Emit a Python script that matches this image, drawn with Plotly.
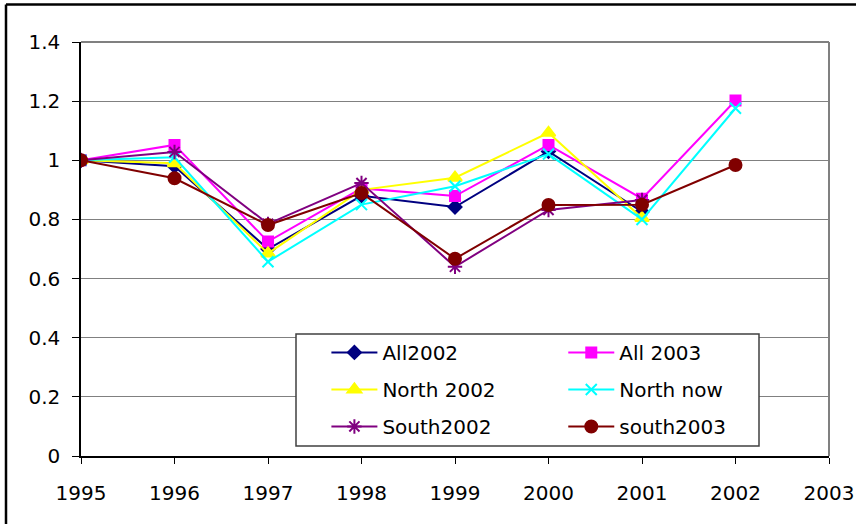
import plotly.graph_objects as go

# Index series (1995 = 1)
years = [1995, 1996, 1997, 1998, 1999, 2000, 2001, 2002]
all2002 = [1.0, 0.98, 0.70, 0.88, 0.842, 1.03, 0.826]
all2003 = [1.0, 1.052, 0.725, 0.905, 0.879, 1.052, 0.87, 1.202]
north2002 = [1.0, 0.99, 0.685, 0.90, 0.941, 1.093, 0.805]
north_now = [1.0, 1.01, 0.657, 0.85, 0.912, 1.021, 0.80, 1.176]
south2002 = [1.0, 1.028, 0.785, 0.923, 0.640, 0.832, 0.866]
south2003 = [1.0, 0.939, 0.781, 0.889, 0.667, 0.849, 0.85, 0.984]

y_ticks = [0, 0.2, 0.4, 0.6, 0.8, 1.0, 1.2, 1.4]
x_ticks = [1995, 1996, 1997, 1998, 1999, 2000, 2001, 2002, 2003]

FONT = "DejaVu Sans"
FS = 20

series = [
    ("All2002", all2002, "#000080", "diamond", 10, "legend"),
    ("All 2003", all2003, "#FF00FF", "square", 10, "legend2"),
    ("North 2002", north2002, "#FFFF00", "triangle-up", 12, "legend"),
    ("North now", north_now, "#00FFFF", "x-thin-open", 11, "legend2"),
    ("South2002", south2002, "#800080", "asterisk-open", 12, "legend"),
    ("south2003", south2003, "#800000", "circle", 12, "legend2"),
]

fig = go.Figure()
for name, vals, color, symbol, size, leg in series:
    fig.add_trace(go.Scatter(
        x=years[:len(vals)], y=vals, name=name, mode="lines+markers",
        line=dict(color=color, width=2),
        marker=dict(symbol=symbol, size=size, color=color,
                    line=dict(color=color, width=2)),
        legend=leg, legendgroup=name,
    ))

legend_common = dict(
    font=dict(family=FONT, size=FS, color="#000000"),
    bgcolor="rgba(0,0,0,0)", borderwidth=0,
    orientation="v", tracegroupgap=8, itemwidth=46,
    xanchor="left", yanchor="top",
)

# plot area in pixels: x 81..829, y 42..456
PW, PH = 748, 414
FRAME_X = (6 - 81) / PW
FRAME_Y = (456 - 4.5) / PH

fig.update_layout(
    width=856, height=524,
    margin=dict(l=81, r=27, t=42, b=68, autoexpand=False),
    paper_bgcolor="#FFFFFF", plot_bgcolor="#FFFFFF",
    font=dict(family=FONT, size=FS, color="#000000"),
    showlegend=True,
    legend=dict(x=0.3 + 21 / PW, y=0.29 + 3 / PH, **legend_common),
    legend2=dict(x=0.614 + 23 / PW, y=0.29 + 3 / PH, **legend_common),
    xaxis=dict(
        range=[1995, 2003], tickmode="array", tickvals=x_ticks,
        ticktext=[str(t) for t in x_ticks],
        showgrid=False, zeroline=False, automargin=False,
        showline=True, linecolor="#000000", linewidth=1.5,
        ticks="outside", ticklen=6, tickcolor="#000000", tickwidth=1,
        ticklabelstandoff=12,
        tickfont=dict(family=FONT, size=FS),
    ),
    yaxis=dict(
        range=[0, 1.4], tickmode="array", tickvals=y_ticks,
        ticktext=["0", "0.2", "0.4", "0.6", "0.8", "1", "1.2", "1.4"],
        showgrid=True, gridcolor="#808080", gridwidth=1,
        zeroline=False, automargin=False,
        showline=True, linecolor="#000000", linewidth=1.5,
        ticks="outside", ticklen=7, tickcolor="#000000", tickwidth=1,
        ticklabelstandoff=8,
        tickfont=dict(family=FONT, size=FS),
    ),
    shapes=[
        # outer chart frame (left and top edges)
        dict(type="line", xref="paper", yref="paper",
             x0=FRAME_X, x1=FRAME_X, y0=-0.2, y1=FRAME_Y,
             line=dict(color="#000000", width=2.5), layer="above"),
        dict(type="line", xref="paper", yref="paper",
             x0=FRAME_X, x1=1.1, y0=FRAME_Y, y1=FRAME_Y,
             line=dict(color="#000000", width=2.5), layer="above"),
        # plot-area border (top and right)
        dict(type="line", xref="paper", yref="paper", x0=0, x1=1, y0=1, y1=1,
             line=dict(color="#808080", width=2)),
        dict(type="line", xref="paper", yref="paper", x0=1, x1=1, y0=0, y1=1,
             line=dict(color="#808080", width=2)),
        # legend box
        dict(type="rect", xref="paper", yref="paper",
             x0=(296 - 81) / PW, x1=(759 - 81) / PW,
             y0=(456 - 446) / PH, y1=(456 - 334) / PH,
             line=dict(color="#404040", width=1.5), fillcolor="#FFFFFF",
             layer="above"),
    ],
)

fig.write_html("out.html")
